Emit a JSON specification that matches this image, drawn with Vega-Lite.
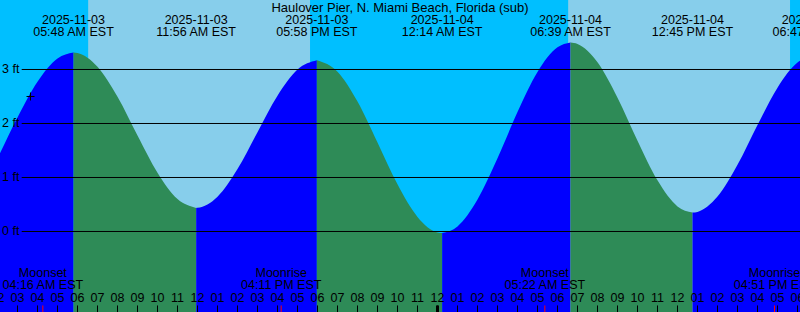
{
  "$schema": "https://vega.github.io/schema/vega-lite/v6.json",
  "width": 800,
  "height": 312,
  "padding": 0,
  "autosize": {"type": "none"},
  "background": "#00bfff",
  "config": {"view": {"stroke": null}, "font": "Liberation Sans"},
  "datasets": {
    "sun": [
      {"start": "2025-11-02T23:00:00Z", "end": "2025-11-03T06:32:00Z", "period": "night"},
      {"start": "2025-11-03T06:32:00Z", "end": "2025-11-03T17:38:00Z", "period": "day"},
      {"start": "2025-11-03T17:38:00Z", "end": "2025-11-04T06:32:00Z", "period": "night"},
      {"start": "2025-11-04T06:32:00Z", "end": "2025-11-04T17:38:00Z", "period": "day"},
      {"start": "2025-11-04T17:38:00Z", "end": "2025-11-04T21:00:00Z", "period": "night"}
    ],
    "tide": [
      {"time": "2025-11-02T23:07:30Z", "ft": 0.1, "seg": 1, "dir": "rising"},
      {"time": "2025-11-03T00:00:00Z", "ft": 0.234, "seg": 1, "dir": "rising"},
      {"time": "2025-11-03T01:00:00Z", "ft": 0.686, "seg": 1, "dir": "rising"},
      {"time": "2025-11-03T02:00:00Z", "ft": 1.36, "seg": 1, "dir": "rising"},
      {"time": "2025-11-03T03:00:00Z", "ft": 2.11, "seg": 1, "dir": "rising"},
      {"time": "2025-11-03T04:00:00Z", "ft": 2.772, "seg": 1, "dir": "rising"},
      {"time": "2025-11-03T05:00:00Z", "ft": 3.203, "seg": 1, "dir": "rising"},
      {"time": "2025-11-03T05:48:00Z", "ft": 3.315, "seg": 1, "dir": "rising"},
      {"time": "2025-11-03T05:48:00Z", "ft": 3.315, "seg": 2, "dir": "falling"},
      {"time": "2025-11-03T06:00:00Z", "ft": 3.307, "seg": 2, "dir": "falling"},
      {"time": "2025-11-03T07:00:00Z", "ft": 3.052, "seg": 2, "dir": "falling"},
      {"time": "2025-11-03T08:00:00Z", "ft": 2.494, "seg": 2, "dir": "falling"},
      {"time": "2025-11-03T09:00:00Z", "ft": 1.778, "seg": 2, "dir": "falling"},
      {"time": "2025-11-03T10:00:00Z", "ft": 1.089, "seg": 2, "dir": "falling"},
      {"time": "2025-11-03T11:00:00Z", "ft": 0.6, "seg": 2, "dir": "falling"},
      {"time": "2025-11-03T11:56:00Z", "ft": 0.437, "seg": 2, "dir": "falling"},
      {"time": "2025-11-03T11:56:00Z", "ft": 0.437, "seg": 3, "dir": "rising"},
      {"time": "2025-11-03T12:00:00Z", "ft": 0.438, "seg": 3, "dir": "rising"},
      {"time": "2025-11-03T13:00:00Z", "ft": 0.642, "seg": 3, "dir": "rising"},
      {"time": "2025-11-03T14:00:00Z", "ft": 1.155, "seg": 3, "dir": "rising"},
      {"time": "2025-11-03T15:00:00Z", "ft": 1.84, "seg": 3, "dir": "rising"},
      {"time": "2025-11-03T16:00:00Z", "ft": 2.514, "seg": 3, "dir": "rising"},
      {"time": "2025-11-03T17:00:00Z", "ft": 3.0, "seg": 3, "dir": "rising"},
      {"time": "2025-11-03T17:58:00Z", "ft": 3.17, "seg": 3, "dir": "rising"},
      {"time": "2025-11-03T17:58:00Z", "ft": 3.17, "seg": 4, "dir": "falling"},
      {"time": "2025-11-03T19:00:00Z", "ft": 2.96, "seg": 4, "dir": "falling"},
      {"time": "2025-11-03T20:00:00Z", "ft": 2.408, "seg": 4, "dir": "falling"},
      {"time": "2025-11-03T21:00:00Z", "ft": 1.65, "seg": 4, "dir": "falling"},
      {"time": "2025-11-03T22:00:00Z", "ft": 0.873, "seg": 4, "dir": "falling"},
      {"time": "2025-11-03T23:00:00Z", "ft": 0.27, "seg": 4, "dir": "falling"},
      {"time": "2025-11-04T00:00:00Z", "ft": -0.019, "seg": 4, "dir": "falling"},
      {"time": "2025-11-04T00:14:00Z", "ft": -0.03, "seg": 4, "dir": "falling"},
      {"time": "2025-11-04T00:14:00Z", "ft": -0.03, "seg": 5, "dir": "rising"},
      {"time": "2025-11-04T01:00:00Z", "ft": 0.093, "seg": 5, "dir": "rising"},
      {"time": "2025-11-04T02:00:00Z", "ft": 0.591, "seg": 5, "dir": "rising"},
      {"time": "2025-11-04T03:00:00Z", "ft": 1.356, "seg": 5, "dir": "rising"},
      {"time": "2025-11-04T04:00:00Z", "ft": 2.212, "seg": 5, "dir": "rising"},
      {"time": "2025-11-04T05:00:00Z", "ft": 2.955, "seg": 5, "dir": "rising"},
      {"time": "2025-11-04T06:00:00Z", "ft": 3.411, "seg": 5, "dir": "rising"},
      {"time": "2025-11-04T06:39:00Z", "ft": 3.5, "seg": 5, "dir": "rising"},
      {"time": "2025-11-04T06:39:00Z", "ft": 3.5, "seg": 6, "dir": "falling"},
      {"time": "2025-11-04T07:00:00Z", "ft": 3.474, "seg": 6, "dir": "falling"},
      {"time": "2025-11-04T08:00:00Z", "ft": 3.134, "seg": 6, "dir": "falling"},
      {"time": "2025-11-04T09:00:00Z", "ft": 2.479, "seg": 6, "dir": "falling"},
      {"time": "2025-11-04T10:00:00Z", "ft": 1.682, "seg": 6, "dir": "falling"},
      {"time": "2025-11-04T11:00:00Z", "ft": 0.947, "seg": 6, "dir": "falling"},
      {"time": "2025-11-04T12:00:00Z", "ft": 0.465, "seg": 6, "dir": "falling"},
      {"time": "2025-11-04T12:45:00Z", "ft": 0.35, "seg": 6, "dir": "falling"},
      {"time": "2025-11-04T12:45:00Z", "ft": 0.35, "seg": 7, "dir": "rising"},
      {"time": "2025-11-04T13:00:00Z", "ft": 0.362, "seg": 7, "dir": "rising"},
      {"time": "2025-11-04T14:00:00Z", "ft": 0.646, "seg": 7, "dir": "rising"},
      {"time": "2025-11-04T15:00:00Z", "ft": 1.235, "seg": 7, "dir": "rising"},
      {"time": "2025-11-04T16:00:00Z", "ft": 1.973, "seg": 7, "dir": "rising"},
      {"time": "2025-11-04T17:00:00Z", "ft": 2.664, "seg": 7, "dir": "rising"},
      {"time": "2025-11-04T18:00:00Z", "ft": 3.128, "seg": 7, "dir": "rising"},
      {"time": "2025-11-04T18:47:00Z", "ft": 3.245, "seg": 7, "dir": "rising"}
    ],
    "events": [
      {"time": "2025-11-03T05:48:00Z", "label": "2025-11-03\n05:48 AM EST"},
      {"time": "2025-11-03T11:56:00Z", "label": "2025-11-03\n11:56 AM EST"},
      {"time": "2025-11-03T17:58:00Z", "label": "2025-11-03\n05:58 PM EST"},
      {"time": "2025-11-04T00:14:00Z", "label": "2025-11-04\n12:14 AM EST"},
      {"time": "2025-11-04T06:39:00Z", "label": "2025-11-04\n06:39 AM EST"},
      {"time": "2025-11-04T12:45:00Z", "label": "2025-11-04\n12:45 PM EST"},
      {"time": "2025-11-04T18:47:00Z", "label": "2025-11-04\n06:47 PM EST"}
    ],
    "moon": [
      {"time": "2025-11-03T04:16:00Z", "label": "Moonset\n04:16 AM EST"},
      {"time": "2025-11-03T16:11:00Z", "label": "Moonrise\n04:11 PM EST"},
      {"time": "2025-11-04T05:22:00Z", "label": "Moonset\n05:22 AM EST"},
      {"time": "2025-11-04T16:51:00Z", "label": "Moonrise\n04:51 PM EST"}
    ],
    "hours": [
      {"time": "2025-11-03T02:00:00Z", "label": "02"},
      {"time": "2025-11-03T03:00:00Z", "label": "03"},
      {"time": "2025-11-03T04:00:00Z", "label": "04"},
      {"time": "2025-11-03T05:00:00Z", "label": "05"},
      {"time": "2025-11-03T06:00:00Z", "label": "06"},
      {"time": "2025-11-03T07:00:00Z", "label": "07"},
      {"time": "2025-11-03T08:00:00Z", "label": "08"},
      {"time": "2025-11-03T09:00:00Z", "label": "09"},
      {"time": "2025-11-03T10:00:00Z", "label": "10"},
      {"time": "2025-11-03T11:00:00Z", "label": "11"},
      {"time": "2025-11-03T12:00:00Z", "label": "12"},
      {"time": "2025-11-03T13:00:00Z", "label": "01"},
      {"time": "2025-11-03T14:00:00Z", "label": "02"},
      {"time": "2025-11-03T15:00:00Z", "label": "03"},
      {"time": "2025-11-03T16:00:00Z", "label": "04"},
      {"time": "2025-11-03T17:00:00Z", "label": "05"},
      {"time": "2025-11-03T18:00:00Z", "label": "06"},
      {"time": "2025-11-03T19:00:00Z", "label": "07"},
      {"time": "2025-11-03T20:00:00Z", "label": "08"},
      {"time": "2025-11-03T21:00:00Z", "label": "09"},
      {"time": "2025-11-03T22:00:00Z", "label": "10"},
      {"time": "2025-11-03T23:00:00Z", "label": "11"},
      {"time": "2025-11-04T00:00:00Z", "label": "12"},
      {"time": "2025-11-04T01:00:00Z", "label": "01"},
      {"time": "2025-11-04T02:00:00Z", "label": "02"},
      {"time": "2025-11-04T03:00:00Z", "label": "03"},
      {"time": "2025-11-04T04:00:00Z", "label": "04"},
      {"time": "2025-11-04T05:00:00Z", "label": "05"},
      {"time": "2025-11-04T06:00:00Z", "label": "06"},
      {"time": "2025-11-04T07:00:00Z", "label": "07"},
      {"time": "2025-11-04T08:00:00Z", "label": "08"},
      {"time": "2025-11-04T09:00:00Z", "label": "09"},
      {"time": "2025-11-04T10:00:00Z", "label": "10"},
      {"time": "2025-11-04T11:00:00Z", "label": "11"},
      {"time": "2025-11-04T12:00:00Z", "label": "12"},
      {"time": "2025-11-04T13:00:00Z", "label": "01"},
      {"time": "2025-11-04T14:00:00Z", "label": "02"},
      {"time": "2025-11-04T15:00:00Z", "label": "03"},
      {"time": "2025-11-04T16:00:00Z", "label": "04"},
      {"time": "2025-11-04T17:00:00Z", "label": "05"},
      {"time": "2025-11-04T18:00:00Z", "label": "06"}
    ],
    "levels": [{"ft": 0, "label": "0 ft"}, {"ft": 1, "label": "1 ft"}, {"ft": 2, "label": "2 ft"}, {"ft": 3, "label": "3 ft"}],
    "now": [{"time": "2025-11-03T03:39:00Z", "ft": 2.5}],
    "midnight": [{"time": "2025-11-04T00:00:00Z"}],
    "title": [{"time": "2025-11-03T22:07:30Z", "label": "Haulover Pier, N. Miami Beach, Florida (sub)"}]
  },
  "resolve": {"scale": {"color": "independent"}},
  "layer": [
    {
      "data": {"name": "sun"},
      "mark": {"type": "rect", "clip": true},
      "encoding": {
        "x": {"field": "start", "type": "temporal", "axis": null,
              "scale": {"type": "utc", "domain": [{"year": 2025, "month": 11, "date": 3, "hours": 2, "minutes": 7, "seconds": 30, "utc": true}, {"year": 2025, "month": 11, "date": 4, "hours": 18, "minutes": 7, "seconds": 30, "utc": true}]}},
        "x2": {"field": "end"},
        "color": {"field": "period", "type": "nominal", "legend": null,
                  "scale": {"domain": ["night", "day"], "range": ["#00bfff", "#87ceeb"]}}
      }
    },
    {
      "data": {"name": "tide"},
      "mark": {"type": "area", "interpolate": "monotone", "clip": true},
      "encoding": {
        "x": {"field": "time", "type": "temporal", "axis": null},
        "y": {"field": "ft", "type": "quantitative", "axis": null,
              "scale": {"domain": [-1.491, 4.287], "nice": false, "zero": false}},
        "y2": {"datum": -1.491},
        "detail": {"field": "seg", "type": "nominal"},
        "color": {"field": "dir", "type": "nominal", "legend": null,
                  "scale": {"domain": ["rising", "falling"], "range": ["#0000ff", "#2e8b57"]}}
      }
    },
    {
      "data": {"name": "levels"},
      "mark": {"type": "rule", "color": "#000000", "strokeWidth": 1},
      "encoding": {
        "y": {"field": "ft", "type": "quantitative", "axis": null},
        "x": {"datum": {"year": 2025, "month": 11, "date": 3, "hours": 3, "minutes": 12, "seconds": 36, "utc": true}, "type": "temporal", "axis": null},
        "x2": {"datum": {"year": 2025, "month": 11, "date": 4, "hours": 18, "minutes": 7, "seconds": 30, "utc": true}}
      }
    },
    {
      "data": {"name": "levels"},
      "mark": {"type": "text", "align": "left", "baseline": "middle", "font": "Liberation Sans", "fontSize": 12.5, "color": "#000000"},
      "encoding": {
        "y": {"field": "ft", "type": "quantitative", "axis": null},
        "x": {"datum": {"year": 2025, "month": 11, "date": 3, "hours": 2, "minutes": 13, "seconds": 30, "utc": true}, "type": "temporal", "axis": null},
        "text": {"field": "label"}
      }
    },
    {
      "data": {"name": "title"},
      "mark": {"type": "text", "align": "center", "baseline": "alphabetic", "font": "Liberation Sans", "fontSize": 13, "color": "#000000"},
      "encoding": {
        "x": {"field": "time", "type": "temporal", "axis": null},
        "y": {"datum": 4.074, "type": "quantitative", "axis": null},
        "text": {"field": "label"}
      }
    },
    {
      "data": {"name": "events"},
      "mark": {"type": "text", "align": "center", "baseline": "alphabetic", "lineBreak": "\n", "lineHeight": 12.4, "font": "Liberation Sans", "fontSize": 12.5, "color": "#000000"},
      "encoding": {
        "x": {"field": "time", "type": "temporal", "axis": null},
        "y": {"datum": 3.85, "type": "quantitative", "axis": null},
        "text": {"field": "label"}
      }
    },
    {
      "data": {"name": "moon"},
      "mark": {"type": "text", "align": "center", "baseline": "alphabetic", "lineBreak": "\n", "lineHeight": 12, "font": "Liberation Sans", "fontSize": 12.5, "color": "#000000"},
      "encoding": {
        "x": {"field": "time", "type": "temporal", "axis": null},
        "y": {"datum": -0.848, "type": "quantitative", "axis": null},
        "text": {"field": "label"}
      }
    },
    {
      "data": {"name": "hours"},
      "mark": {"type": "text", "align": "center", "baseline": "alphabetic", "font": "Liberation Sans", "fontSize": 12.5, "color": "#000000"},
      "encoding": {
        "x": {"field": "time", "type": "temporal", "axis": null},
        "y": {"datum": -1.311, "type": "quantitative", "axis": null},
        "text": {"field": "label"}
      }
    },
    {
      "data": {"name": "hours"},
      "mark": {"type": "rule", "color": "#000000", "strokeWidth": 1},
      "encoding": {
        "x": {"field": "time", "type": "temporal", "axis": null},
        "y": {"datum": -1.37, "type": "quantitative", "axis": null},
        "y2": {"datum": -1.491}
      }
    },
    {
      "data": {"name": "moon"},
      "mark": {"type": "rule", "color": "#ff0000", "strokeWidth": 1},
      "encoding": {
        "x": {"field": "time", "type": "temporal", "axis": null},
        "y": {"datum": -1.37, "type": "quantitative", "axis": null},
        "y2": {"datum": -1.491}
      }
    },
    {
      "data": {"name": "midnight"},
      "mark": {"type": "rule", "color": "#000000", "strokeWidth": 3},
      "encoding": {
        "x": {"field": "time", "type": "temporal", "axis": null},
        "y": {"datum": -1.37, "type": "quantitative", "axis": null},
        "y2": {"datum": -1.491}
      }
    },
    {
      "data": {"name": "now"},
      "mark": {"type": "point", "shape": "M-1,0L1,0M0,-1L0,1", "size": 64, "filled": false, "stroke": "#000000", "strokeWidth": 1, "opacity": 1},
      "encoding": {
        "x": {"field": "time", "type": "temporal", "axis": null},
        "y": {"field": "ft", "type": "quantitative", "axis": null}
      }
    }
  ]
}
